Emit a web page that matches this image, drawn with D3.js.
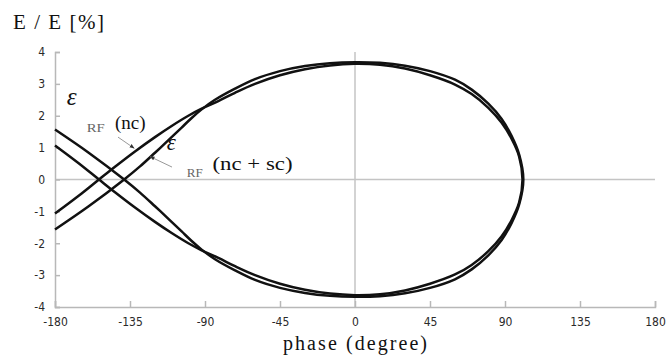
<!DOCTYPE html>
<html>
<head>
<meta charset="utf-8">
<script src="https://cdn.jsdelivr.net/npm/d3@7"></script>
<style>
  body { margin: 0; background: #fff; }
  .tick text { font-family: "Liberation Sans Narrow", "DejaVu Sans Condensed", "Liberation Sans", sans-serif; font-size: 12px; fill: #2a2a2a; }
  .lbl { font-family: "Liberation Serif", "DejaVu Serif", serif; fill: #111; }
</style>
</head>
<body>
<div class="central"></div>
<script>
//Width and height of chart
var width = 670,
	height = 357;

//Phase ticks and energy ticks
var phaseTicks = [-180, -135, -90, -45, 0, 45, 90, 135, 180];
var energyTicks = [-4, -3, -2, -1, 0, 1, 2, 3, 4];

//Separatrix (nc): branch through the unstable point, over the top, to the right turning point
var phaseNC = [-180, -166, -153.6, -144, -132, -120, -110, -100, -92, -82, -72, -60, -45, -30, -15, 0, 15, 30, 45, 60, 70, 80, 88, 94, 98.5, 100.5];
var energyNCUpper = [-1.07, -0.52, 0, 0.4, 0.88, 1.33, 1.68, 2.0, 2.22, 2.46, 2.72, 3.0, 3.27, 3.46, 3.58, 3.63, 3.6, 3.48, 3.27, 2.98, 2.68, 2.25, 1.78, 1.27, 0.72, 0];
var energyNCLower = [1.07, 0.52, 0, -0.4, -0.88, -1.33, -1.68, -2.0, -2.22, -2.46, -2.72, -3.0, -3.27, -3.46, -3.58, -3.63, -3.6, -3.48, -3.27, -2.98, -2.68, -2.25, -1.78, -1.27, -0.72, 0];

//Separatrix (nc + sc)
var phaseSC = [-180, -160, -138.5, -129, -120, -111, -104, -98, -92, -84, -72, -60, -45, -30, -15, 0, 15, 30, 45, 60, 70, 80, 88, 94, 98.5, 101];
var energySCUpper = [-1.57, -0.85, 0, 0.41, 0.84, 1.28, 1.63, 1.93, 2.2, 2.5, 2.85, 3.15, 3.4, 3.56, 3.65, 3.68, 3.66, 3.57, 3.4, 3.13, 2.82, 2.38, 1.9, 1.36, 0.78, 0];
var energySCLower = [1.57, 0.85, 0, -0.41, -0.84, -1.28, -1.63, -1.93, -2.2, -2.5, -2.85, -3.15, -3.4, -3.56, -3.65, -3.68, -3.66, -3.57, -3.4, -3.13, -2.82, -2.38, -1.9, -1.36, -0.78, 0];

//Build a closed loop: upper branch left to right, then lower branch back to the left
var makeLoop = function(phase, upper, lower){
	var pts = [];
	for(var i = 0; i < phase.length; i++){
		pts.push([phase[i], upper[i]]);
	}
	for(var j = phase.length - 2; j >= 0; j--){
		pts.push([phase[j], lower[j]]);
	}
	return pts;
}
var curves = [makeLoop(phaseNC, energyNCUpper, energyNCLower), makeLoop(phaseSC, energySCUpper, energySCLower)];

//Scales
var x = d3.scaleLinear().domain([-180, 180]).range([55, 655]);
var y = d3.scaleLinear().domain([-4, 4]).range([307, 52]);

var svg = d3.select(".central")
			.append("svg")
			.attr("width", width)
			.attr("height", height);

//Zero lines
svg.append("line")
	.attr("x1", x(-180)).attr("x2", x(180))
	.attr("y1", y(0)).attr("y2", y(0))
	.style("stroke", "#c4c4c4").style("stroke-width", 1.5);
svg.append("line")
	.attr("x1", x(0)).attr("x2", x(0))
	.attr("y1", y(4)).attr("y2", y(-4))
	.style("stroke", "#c4c4c4").style("stroke-width", 1.5);

//Axes with inner ticks, plain hyphen minus like the original
var fmt = function(d){ return String(d); };
svg.append("g")
	.attr("transform", "translate(0," + y(-4) + ")")
	.call(d3.axisBottom(x).tickValues(phaseTicks).tickFormat(fmt).tickSize(-6).tickPadding(10));
svg.append("g")
	.attr("transform", "translate(" + x(-180) + ",0)")
	.call(d3.axisLeft(y).tickValues(energyTicks).tickFormat(fmt).tickSize(-5).tickPadding(10));
svg.selectAll(".domain, .tick line")
	.style("stroke", "#b8b8b8").style("stroke-width", 1.5);

//Separatrix curves
var line = d3.line()
	.x(function(d){ return x(d[0]); })
	.y(function(d){ return y(d[1]); })
	.curve(d3.curveCatmullRom.alpha(0.5));
svg.selectAll(".sep")
	.data(curves)
	.enter()
	.append("path")
	.attr("class", "sep")
	.attr("d", line)
	.style("fill", "none")
	.style("stroke", "#111")
	.style("stroke-width", 2.5);

//Arrow marker
svg.append("defs").append("marker")
	.attr("id", "head")
	.attr("viewBox", "0 0 10 10")
	.attr("refX", 9).attr("refY", 5)
	.attr("markerWidth", 5).attr("markerHeight", 5)
	.attr("orient", "auto")
	.append("path")
	.attr("d", "M0,1L10,5L0,9Z")
	.style("fill", "#333");

var arrows = [
	{from: [-142.2, 1.33], to: [-132.5, 0.98]},
	{from: [-109.8, 0.39], to: [-123, 0.72]}
];
svg.selectAll(".arrow")
	.data(arrows)
	.enter()
	.append("line")
	.attr("class", "arrow")
	.attr("x1", function(d){ return x(d.from[0]); })
	.attr("y1", function(d){ return y(d.from[1]); })
	.attr("x2", function(d){ return x(d.to[0]); })
	.attr("y2", function(d){ return y(d.to[1]); })
	.style("stroke", "#999")
	.style("stroke-width", 1)
	.attr("marker-end", "url(#head)");

//Curve labels
var labels = [
	{t: "\u03b5", p: [-173, 2.33], size: 25, italic: true},
	{t: "RF", p: [-161, 1.48], size: 13, w: 18},
	{t: "(nc)", p: [-144, 1.6], size: 19},
	{t: "\u03b5", p: [-113, 0.93], size: 23, italic: true},
	{t: "RF", p: [-101, 0.08], size: 13, w: 16},
	{t: "(nc + sc)", p: [-85.5, 0.3], size: 19, w: 80}
];
var cl = svg.selectAll(".cl")
	.data(labels)
	.enter()
	.append("text")
	.attr("class", "lbl cl")
	.attr("x", function(d){ return x(d.p[0]); })
	.attr("y", function(d){ return y(d.p[1]); })
	.style("font-size", function(d){ return d.size + "px"; })
	.style("font-style", function(d){ return d.italic ? "italic" : "normal"; })
	.style("fill", function(d){ return d.size < 15 ? "#666" : "#111"; })
	.text(function(d){ return d.t; });
cl.filter(function(d){ return d.w; })
	.attr("textLength", function(d){ return d.w; })
	.attr("lengthAdjust", "spacingAndGlyphs");

//Axis titles
svg.append("text")
	.attr("class", "lbl")
	.attr("x", 13).attr("y", 29)
	.attr("textLength", 91)
	.attr("lengthAdjust", "spacing")
	.style("font-size", "21px")
	.text("E / E [%]");
svg.append("text")
	.attr("class", "lbl")
	.attr("x", 283).attr("y", 350)
	.attr("textLength", 144)
	.attr("lengthAdjust", "spacing")
	.style("font-size", "20px")
	.text("phase (degree)");
</script>
</body>
</html>
